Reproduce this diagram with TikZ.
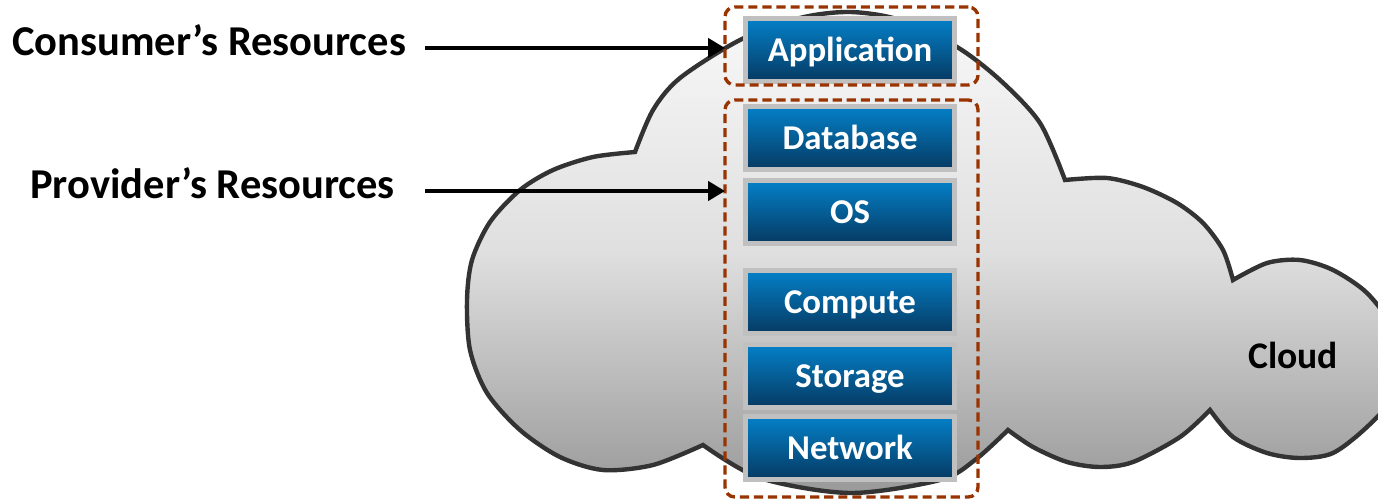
\documentclass[tikz,border=0pt]{standalone}
\usepackage{fontspec}
\setmainfont{Carlito}
\usepackage{tikz}
\usetikzlibrary{arrows.meta,positioning}
\usepackage{xcolor}
\definecolor{layertop}{RGB}{4,128,200}
\definecolor{layerbot}{RGB}{6,58,98}
\definecolor{framegray}{RGB}{192,192,192}
\definecolor{dashbrown}{RGB}{153,51,0}
\definecolor{cloudline}{RGB}{51,51,51}

\begin{document}
\begin{tikzpicture}[x=0.02cm, y=-0.02cm,
  stackbox/.style={draw=framegray, line width=2.8pt, top color=layertop, bottom color=layerbot,
    minimum width=4.18cm, minimum height=1.26cm, inner sep=0pt, outer sep=0pt,
    text height=12.75pt, text depth=0pt,
    text=white, font=\fontsize{19.8}{23}\selectfont\bfseries},
  resgroup/.style={draw=dashbrown, line width=1.9pt, dash pattern=on 5.2pt off 2.8pt,
    rounded corners=5.5pt, inner sep=0pt, outer sep=0pt},
  sidetext/.style={font=\fontsize{24.2}{28}\selectfont\bfseries, inner sep=0pt},
  pointer/.style={-{Triangle[length=9.6pt,width=10.8pt]}, line width=2.3pt}]
\useasboundingbox (0,0) rectangle (1378,500);
\clip (0,0) rectangle (1378,500);

% the cloud
\draw[draw=cloudline, line width=2.5pt, top color=gray!5, bottom color=gray!80, middle color=gray!25]
  plot[smooth] coordinates {(635,152) (653,110) (680,78) (740,40) (800,18) (850,12) (900,20) (957,47) (1000,80) (1040,123) (1065,180)}
  -- plot[smooth] coordinates {(1065,180) (1107,178) (1143,187) (1177,203) (1203,223) (1223,250) (1233,280)}
  -- plot[smooth] coordinates {(1233,280) (1267,263) (1300,260) (1333,270) (1367,293) (1395,330) (1402,360) (1395,395) (1367,427) (1333,453) (1300,458) (1267,453) (1233,437) (1210,410)}
  -- plot[smooth] coordinates {(1210,410) (1180,437) (1133,462) (1100,467) (1067,462) (1033,447) (1008,430)}
  -- plot[smooth] coordinates {(1008,430) (975,460) (940,480) (850,493) (760,478) (703,445)}
  -- plot[smooth] coordinates {(703,445) (653,465) (603,470) (560,457) (520,430) (487,393) (470,350) (467,300) (472,260) (490,222) (520,190) (553,170) (593,157) (635,152)}
  -- cycle;
\node[sidetext, font=\fontsize{21.4}{25}\selectfont\bfseries, anchor=base] (cloudtxt) at (1293,368) {Cloud};

% resource layers
\node[stackbox] (app) at (850,50) {Application};
\node[stackbox] (db) at (850,138) {Database};
\node[stackbox] (os) at (850,212) {OS};
\node[stackbox] (comp) at (850,302) {Compute};
\node[stackbox] (stor) at (850,376) {Storage};
\node[stackbox] (net) at (850,448) {Network};

% dashed groups
\node[resgroup, minimum width=5.06cm, minimum height=1.56cm] (cons) at (851.5,46) {};
\node[resgroup, minimum width=5.06cm, minimum height=7.94cm] (prov) at (851.5,298.5) {};

% labels and arrows
\node[sidetext, anchor=base west] (clabel) at (12,56) {Consumer’s Resources};
\node[sidetext, anchor=base west] (plabel) at (30,198) {Provider’s Resources};
\coordinate (ctail) at (425,48);
\coordinate (ptail) at (425,191);
\draw[pointer] (ctail) -- (ctail -| cons.west);
\draw[pointer] (ptail) -- (ptail -| prov.west);
\end{tikzpicture}
\end{document}
